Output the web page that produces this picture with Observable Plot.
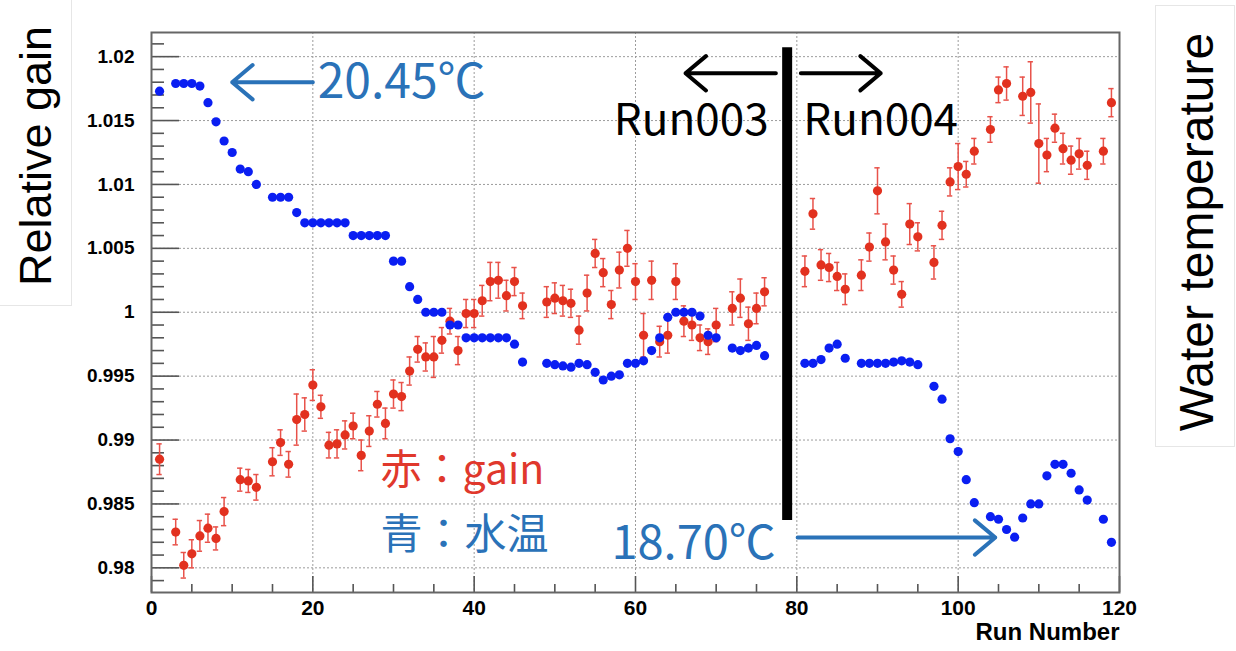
<!DOCTYPE html>
<html><head><meta charset="utf-8">
<script src="https://cdn.jsdelivr.net/npm/d3@7"></script>
<script src="https://cdn.jsdelivr.net/npm/@observablehq/plot@0.6"></script>
<style>
html,body{margin:0;padding:0;background:#fff;width:1236px;height:651px;overflow:hidden}
#chart{position:absolute;left:0;top:0}
.ttl{position:absolute;background:#fff;font-family:"Liberation Sans",Arial,sans-serif;color:#000;z-index:2}
.ttl span{position:absolute;white-space:nowrap;transform:translate(-50%,-50%) rotate(-90deg)}
#ylab{left:-1px;top:-1px;width:71px;height:305px;border:1px solid #e6e6e6}
#ylab span{left:36px;top:156px;font-size:45px}
#rlab{left:1155px;top:5px;width:78px;height:440px;border:1px solid #e6e6e6}
#rlab span{left:40px;top:226px;font-size:48px}
</style>
</head><body>
<div id="chart"></div>
<div class="ttl" id="ylab"><span>Relative gain</span></div>
<div class="ttl" id="rlab"><span>Water temperature</span></div>
<script>
// ---- data ----
const xMajor = [0, 20, 40, 60, 80, 100, 120];
const yMajor = [0.98, 0.985, 0.99, 0.995, 1.0, 1.005, 1.01, 1.015, 1.02];

// water temperature (blue, drawn on the gain scale)
const blueRun = [1,3,4,5,6,7,8,9,10,11,12,13,
  15,16,17,18,19,20,21,22,23,24,25,26,27,28,29,30,31,32,33,34,35,36,37,38,39,40,41,42,43,44,45,46,
  49,50,51,52,53,54,55,56,57,58,59,60,61,62,63,64,65,66,67,68,69,70,
  72,73,74,75,76,
  81,82,83,84,85,86,
  88,89,90,91,92,93,94,95,
  97,98,99,100,101,102,
  104,105,106,107,108,109,110,111,112,113,114,115,116,
  118,119];
const blueVal = [1.0173,1.0179,1.0179,1.0179,1.0177,1.0164,1.0149,1.0134,1.0125,1.0112,1.0110,1.0100,
  1.0090,1.0090,1.0090,1.0078,1.0070,1.0070,1.0070,1.0070,1.0070,1.0070,1.0060,1.0060,1.0060,1.0060,1.0060,1.0040,1.0040,1.0020,1.0010,1.0000,1.0000,1.0000,0.9990,0.9990,0.9980,0.9980,0.9980,0.9980,0.9980,0.9980,0.9975,0.9961,
  0.9960,0.9959,0.9958,0.9957,0.9960,0.9959,0.9953,0.9947,0.9950,0.9951,0.9960,0.9960,0.9962,0.9970,0.9980,0.9996,1.0000,1.0000,1.0000,0.9997,0.9982,0.9980,
  0.9972,0.9970,0.9972,0.9974,0.9966,
  0.9960,0.9960,0.9963,0.9972,0.9975,0.9964,
  0.9960,0.9960,0.9960,0.9960,0.9961,0.9962,0.9961,0.9959,
  0.9942,0.9932,0.9901,0.9891,0.9869,0.9851,
  0.9840,0.9838,0.9830,0.9824,0.9839,0.9850,0.9850,0.9872,0.9881,0.9881,0.9874,0.9861,0.9853,
  0.9838,0.9820];

// relative gain (red) with errors
const redRun = [1,3,4,5,6,7,8,9,11,12,13,
  15,16,17,18,19,20,21,22,23,24,25,26,27,28,29,30,31,32,33,34,35,36,37,38,39,40,41,42,43,44,45,46,
  49,50,51,52,53,54,55,56,57,58,59,60,61,62,63,64,65,66,67,68,69,70,
  72,73,74,75,76,
  81,82,83,84,85,86,
  88,89,90,91,92,93,94,95,
  97,98,99,100,101,102,
  104,105,106,108,109,110,111,112,113,114,115,116,
  118,119];
const redGain = [0.9885,0.9828,0.9802,0.9811,0.9825,0.9831,0.9823,0.9844,0.9869,0.9868,0.9863,
  0.9883,0.9898,0.9881,0.9916,0.9920,0.9943,0.9926,0.9896,0.9897,0.9904,0.9911,0.9888,0.9907,0.9928,0.9913,0.9936,0.9934,0.9954,0.9971,0.9965,0.9965,0.9978,0.9993,0.9970,0.9999,0.9999,1.0009,1.0024,1.0025,1.0013,1.0024,1.0005,
  1.0008,1.0011,1.0009,1.0007,0.9986,1.0015,1.0046,1.0031,1.0006,1.0033,1.0050,1.0024,0.9982,1.0025,0.9977,0.9982,1.0024,0.9993,0.9990,0.9980,0.9977,0.9990,
  1.0003,1.0011,0.9991,1.0003,1.0016,
  1.0032,1.0077,1.0037,1.0035,1.0028,1.0018,
  1.0029,1.0051,1.0095,1.0055,1.0033,1.0014,1.0069,1.0059,
  1.0039,1.0068,1.0102,1.0114,1.0108,1.0126,
  1.0143,1.0174,1.0179,1.0169,1.0172,1.0132,1.0123,1.0144,1.0128,1.0119,1.0124,1.0115,
  1.0126,1.0164];
const redErr = [0.0012,0.0010,0.0010,0.0011,0.0012,0.0011,0.0009,0.0011,0.0009,0.0009,0.0010,
  0.0011,0.0010,0.0010,0.0020,0.0013,0.0012,0.0009,0.0010,0.0011,0.0011,0.0010,0.0012,0.0012,0.0010,0.0012,0.0011,0.0011,0.0011,0.0010,0.0011,0.0016,0.0010,0.0010,0.0011,0.0011,0.0011,0.0012,0.0015,0.0014,0.0012,0.0011,0.0010,
  0.0012,0.0012,0.0012,0.0011,0.0011,0.0014,0.0011,0.0011,0.0011,0.0014,0.0014,0.0014,0.0017,0.0015,0.0012,0.0014,0.0014,0.0012,0.0012,0.0010,0.0010,0.0013,
  0.0013,0.0015,0.0013,0.0012,0.0011,
  0.0012,0.0012,0.0012,0.0011,0.0011,0.0012,
  0.0012,0.0011,0.0018,0.0014,0.0011,0.0010,0.0016,0.0011,
  0.0013,0.0011,0.0011,0.0018,0.0010,0.0010,
  0.0010,0.0010,0.0013,0.0015,0.0024,0.0031,0.0013,0.0011,0.0012,0.0011,0.0012,0.0011,
  0.0010,0.0011];

// annotations (run, value)
const dividerRun = [78.8], dividerLow = [0.9837], dividerHigh = [1.0207];
const blackArrowFrom = [77.4, 80.5], blackArrowTo = [66.2, 90.4], blackArrowVal = [1.0187, 1.0187];
const blueArrowFrom = [20.0, 80.1], blueArrowTo = [10.0, 104.6], blueArrowVal = [1.0180, 0.98237];
const tempLabels = ["20.45℃", "18.70℃"], tempLabelRun = [20.6, 77.4], tempLabelVal = [1.0180, 0.9819];
const runLabels = ["Run003", "Run004"], runLabelRun = [76.5, 80.8], runLabelVal = [1.0150, 1.0150];
const legendLabels = ["赤：gain", "青：水温"], legendRun = [28.4, 28.4], legendVal = [0.9876, 0.9825];

// ---- tables ----
const blue = blueRun.map((r, i) => ({run: r, v: blueVal[i]}));
const red = redRun.map((r, i) => ({run: r, g: redGain[i], e: redErr[i]}));
const arrowsK = blackArrowFrom.map((f, i) => ({a: f, b: blackArrowTo[i], v: blackArrowVal[i]}));
const arrowsB = blueArrowFrom.map((f, i) => ({a: f, b: blueArrowTo[i], v: blueArrowVal[i]}));
const divider = dividerRun.map((r, i) => ({run: r, lo: dividerLow[i], hi: dividerHigh[i]}));
const tl = tempLabels.map((t, i) => ({t, run: tempLabelRun[i], v: tempLabelVal[i]}));
const rl = runLabels.map((t, i) => ({t, run: runLabelRun[i], v: runLabelVal[i]}));
const lg = legendLabels.map((t, i) => ({t, run: legendRun[i], v: legendVal[i]}));

const yMinor = d3.range(0.979, 1.0215, 0.001).filter(v => !yMajor.some(m => Math.abs(m - v) < 1e-6));
const xMinor = d3.range(5, 120, 5).filter(v => v % 20 !== 0);

const W = 1236, H = 651, mL = 151, mR = 117, mT = 32, mB = 59;
const fW = W - mL - mR, fH = H - mT - mB;
const axisGray = "#555";
const gridGray = "#9c9c9c";
const redC = "#e2311f", blueDot = "#0a1ef2", blueTxt = "#2a72b8", redTxt = "#e0382c";
const jp = "'Noto Sans CJK JP', 'Noto Sans', sans-serif";

const chart = Plot.plot({
  width: W, height: H,
  marginLeft: mL, marginRight: mR, marginTop: mT, marginBottom: mB,
  x: {domain: [0, 120]},
  y: {domain: [0.97807, 1.02189]},
  style: {fontFamily: "'Liberation Sans', Arial, sans-serif", background: "transparent", color: "#000"},
  marks: [
    Plot.ruleY(yMajor, {stroke: gridGray, strokeDasharray: "2,2", strokeWidth: 1}),
    Plot.ruleX(xMajor, {stroke: gridGray, strokeDasharray: "2,2", strokeWidth: 1}),
    Plot.ruleY(yMinor, {insetRight: fW - 13, stroke: axisGray, strokeWidth: 1.6}),
    Plot.ruleY(yMajor, {insetRight: fW - 28, stroke: axisGray, strokeWidth: 1.6}),
    Plot.ruleX(xMinor, {insetTop: fH - 8, stroke: axisGray, strokeWidth: 1.6}),
    Plot.ruleX(xMajor, {insetTop: fH - 16, stroke: axisGray, strokeWidth: 1.6}),
    Plot.frame({stroke: "#666", strokeWidth: 2}),
    Plot.axisY(yMajor, {tickSize: 0, tickPadding: 17, label: null, fontSize: 19, fontWeight: "bold",
      tickFormat: d => String(+d.toFixed(3))}),
    Plot.axisX(xMajor, {tickSize: 0, tickPadding: 8, label: null, fontSize: 21, fontWeight: "bold"}),
    Plot.text(["Run Number"], {frameAnchor: "bottom-right", dy: 47, text: d => d, textAnchor: "end",
      fontSize: 24, fontWeight: "bold"}),
    // red gain with error bars
    Plot.ruleX(red, {x: "run", y1: d => d.g - d.e, y2: d => d.g + d.e, stroke: "#e8524a", strokeWidth: 1.5}),
    Plot.ruleY(red, {y: d => d.g + d.e, x1: d => d.run - 0.33, x2: d => d.run + 0.33, stroke: "#e8524a", strokeWidth: 1.5}),
    Plot.ruleY(red, {y: d => d.g - d.e, x1: d => d.run - 0.33, x2: d => d.run + 0.33, stroke: "#e8524a", strokeWidth: 1.5}),
    Plot.dot(red, {x: "run", y: "g", r: 4.6, fill: redC}),
    // blue water temperature
    Plot.dot(blue, {x: "run", y: "v", r: 4.6, fill: blueDot}),
    // annotations
    Plot.ruleX(divider, {x: "run", y1: "lo", y2: "hi", stroke: "#000", strokeWidth: 10}),
    Plot.arrow(arrowsK, {x1: "a", x2: "b", y1: "v", y2: "v", stroke: "#000", strokeWidth: 4, headLength: 10, headAngle: 80}),
    Plot.arrow(arrowsB, {x1: "a", x2: "b", y1: "v", y2: "v", stroke: blueTxt, strokeWidth: 4, headLength: 10, headAngle: 80}),
    Plot.text(tl.slice(0, 1), {x: "run", y: "v", text: "t", textAnchor: "start", fill: blueTxt, fontSize: 48, fontFamily: jp}),
    Plot.text(tl.slice(1), {x: "run", y: "v", text: "t", textAnchor: "end", fill: blueTxt, fontSize: 47, fontFamily: jp}),
    Plot.text(rl.slice(0, 1), {x: "run", y: "v", text: "t", textAnchor: "end", fill: "#000", fontSize: 44, fontFamily: jp}),
    Plot.text(rl.slice(1), {x: "run", y: "v", text: "t", textAnchor: "start", fill: "#000", fontSize: 44, fontFamily: jp}),
    Plot.text(lg.slice(0, 1), {x: "run", y: "v", text: "t", textAnchor: "start", fill: redTxt, fontSize: 41, fontFamily: jp}),
    Plot.text(lg.slice(1), {x: "run", y: "v", text: "t", textAnchor: "start", fill: blueTxt, fontSize: 42, fontFamily: jp})
  ]
});
document.getElementById("chart").appendChild(chart);
</script>
</body></html>
